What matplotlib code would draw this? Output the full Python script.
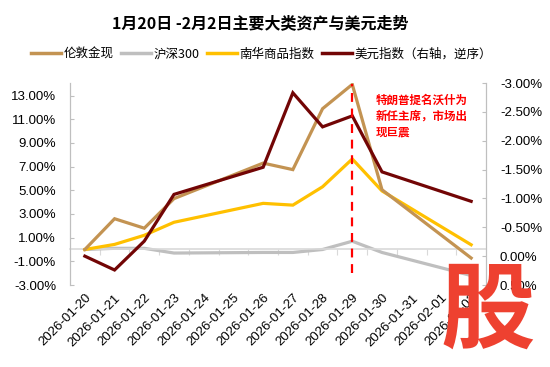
import matplotlib
matplotlib.use("Agg")
import matplotlib.pyplot as plt
from matplotlib.ticker import FuncFormatter, FixedLocator
from matplotlib.lines import Line2D

plt.rcParams['font.family'] = ['Liberation Sans', 'Noto Sans CJK SC', 'DejaVu Sans']

dates = ["2026-01-20", "2026-01-21", "2026-01-22", "2026-01-23", "2026-01-24",
         "2026-01-25", "2026-01-26", "2026-01-27", "2026-01-28", "2026-01-29",
         "2026-01-30", "2026-01-31", "2026-02-01", "2026-02-02"]
gold = [0.0, 2.6, 1.8, 4.3, None, None, 7.3, 6.75, 11.9, 13.95, 5.05, None, None, -0.72]
csi300 = [0.0, 0.1, 0.1, -0.3, None, None, -0.25, -0.25, 0.0, 0.7, -0.25, None, None, -2.2]
nanhua = [0.0, 0.43, 1.2, 2.3, None, None, 3.9, 3.75, 5.3, 7.65, 4.95, None, None, 0.4]
dxy = [0.0, 0.24, -0.26, -1.07, None, None, -1.54, -2.83, -2.24, -2.43, -1.46, None, None, -0.95]

names = ["伦敦金现", "沪深300", "南华商品指数", "美元指数（右轴，逆序）"]
colors = ["#C39352", "#BFBFBF", "#FFC000", "#720505"]
event_date = "2026-01-29"
event_text = "特朗普提名沃什为\n新任主席，市场出\n现巨震"
title = "1月20日 -2月2日主要大类资产与美元走势"

left_ticks = [-3, -1, 1, 3, 5, 7, 9, 11, 13]
right_ticks = [0.5, 0.0, -0.5, -1.0, -1.5, -2.0, -2.5, -3.0]


def valid(series):
    xs = [i for i, v in enumerate(series) if v is not None]
    ys = [series[i] for i in xs]
    return xs, ys


fig = plt.figure(figsize=(5.5, 3.67), dpi=100)
ax = fig.add_axes([70 / 550, 1 - 285 / 367, 416 / 550, 202 / 367])
ax2 = ax.twinx()

lw = 2.3
for s, c, z in [(csi300, colors[1], 2), (nanhua, colors[2], 3), (gold, colors[0], 4)]:
    xs, ys = valid(s)
    ax.plot(xs, ys, color=c, lw=lw, zorder=z, solid_joinstyle='miter')
xs, ys = valid(dxy)
ax2.plot(xs, ys, color=colors[3], lw=lw, zorder=3, solid_joinstyle='miter')

n = len(dates)
ax.set_xlim(-0.5, n - 0.5)
ax.set_ylim(-3, 14.07)
ax2.set_ylim(0.5, -3.0)

# event line
ei = dates.index(event_date)
ax2.axvline(ei, ymin=0.06, ymax=0.995, color="#FF0000", lw=1.6,
            dashes=(4, 3), zorder=5)

# left axis
ax.yaxis.set_major_locator(FixedLocator(left_ticks))
ax.yaxis.set_major_formatter(FuncFormatter(lambda v, p: f"{v:.2f}%"))
ax.tick_params(axis='y', direction='in', length=3, color="#BFBFBF",
               labelsize=9.5, pad=10, labelcolor="#000000")
ax2.yaxis.set_major_locator(FixedLocator(right_ticks))
ax2.yaxis.set_major_formatter(FuncFormatter(lambda v, p: f"{v:.2f}%"))
ax2.tick_params(axis='y', direction='in', length=3, color="#BFBFBF",
                labelsize=9.5, pad=10, labelcolor="#000000")

for a in (ax, ax2):
    a.spines['top'].set_visible(False)
    a.spines['left'].set_color("#BFBFBF")
    a.spines['right'].set_color("#BFBFBF")
    a.patch.set_visible(False)
ax2.spines['bottom'].set_visible(False)

# zero line with category boundary ticks
ax.spines['bottom'].set_position(('data', 0))
ax.spines['bottom'].set_color("#D9D9D9")
ax.spines['bottom'].set_linewidth(1.2)
ax.xaxis.set_major_locator(FixedLocator([i + 0.5 for i in range(n - 1)]))
ax.tick_params(axis='x', direction='out', length=4, color="#D9D9D9",
               labelbottom=False)

# date labels at bottom
sec = ax.secondary_xaxis('bottom')
sec.spines['bottom'].set_visible(False)
sec.set_xticks(range(n))
sec.set_xticklabels(dates, rotation=45, ha='right', va='top',
                    rotation_mode='anchor', fontsize=9.5)
sec.tick_params(axis='x', length=0, pad=5)

# annotation
fig.text(376 / 550, 1 - 94 / 367, event_text, color="#FF0000", fontsize=8.3,
         family=['Noto Sans CJK SC'], weight='bold', va='top', ha='left',
         linespacing=1.25)

# title
fig.text(0.473, 1 - 23 / 367, title, fontsize=11.5, weight='bold',
         family=['Noto Sans CJK SC', 'DejaVu Sans'], ha='center', va='center')

# legend
handles = [Line2D([], [], color=c, lw=2.5) for c in colors]
fig.legend(handles, names, loc='center', bbox_to_anchor=(0.475, 1 - 54 / 367),
           ncol=4, frameon=False, handlelength=2.4, handletextpad=0.2,
           columnspacing=0.6, prop={'family': ['Noto Sans CJK SC'], 'size': 9})

# watermark
fig.text(488 / 550, 1 - 313 / 367, "股", color="#EE4130", fontsize=68,
         family=['Noto Sans CJK SC'], weight='black', ha='center', va='center',
         zorder=10)

fig.savefig("out.png", dpi=100)
